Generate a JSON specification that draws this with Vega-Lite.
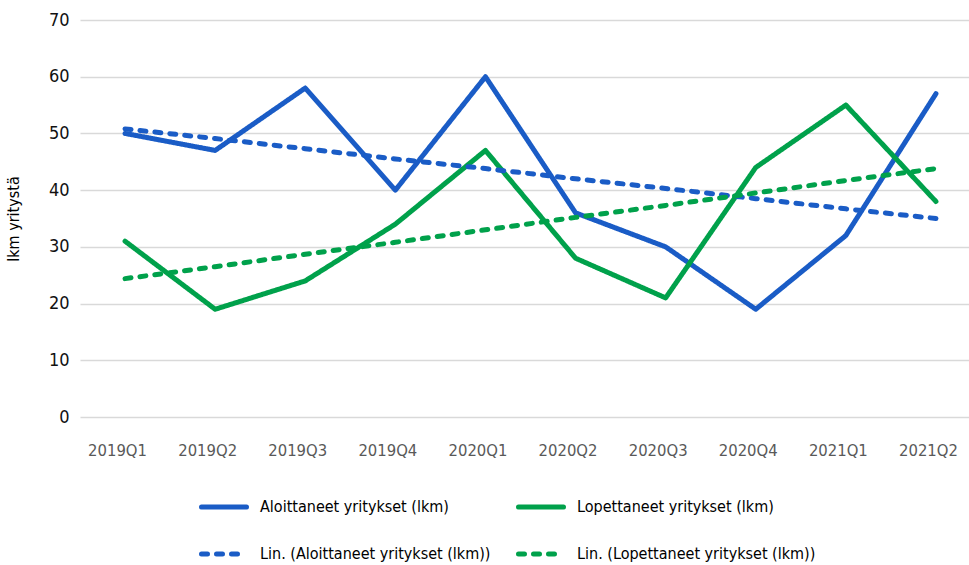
{
  "$schema": "https://vega.github.io/schema/vega-lite/v6.json",
  "width": 901,
  "height": 397,
  "autosize": {"type": "none"},
  "padding": {"left": 80, "top": 20, "right": -12, "bottom": 148},
  "background": "white",
  "config": {"font": "DejaVu Sans Condensed", "view": {"stroke": null}},
  "data": {
    "values": [
      {"quarter": "2019Q1", "series": "Aloittaneet yritykset (lkm)", "value": 50},
      {"quarter": "2019Q2", "series": "Aloittaneet yritykset (lkm)", "value": 47},
      {"quarter": "2019Q3", "series": "Aloittaneet yritykset (lkm)", "value": 58},
      {"quarter": "2019Q4", "series": "Aloittaneet yritykset (lkm)", "value": 40},
      {"quarter": "2020Q1", "series": "Aloittaneet yritykset (lkm)", "value": 60},
      {"quarter": "2020Q2", "series": "Aloittaneet yritykset (lkm)", "value": 36},
      {"quarter": "2020Q3", "series": "Aloittaneet yritykset (lkm)", "value": 30},
      {"quarter": "2020Q4", "series": "Aloittaneet yritykset (lkm)", "value": 19},
      {"quarter": "2021Q1", "series": "Aloittaneet yritykset (lkm)", "value": 32},
      {"quarter": "2021Q2", "series": "Aloittaneet yritykset (lkm)", "value": 57},
      {"quarter": "2019Q1", "series": "Lopettaneet yritykset (lkm)", "value": 31},
      {"quarter": "2019Q2", "series": "Lopettaneet yritykset (lkm)", "value": 19},
      {"quarter": "2019Q3", "series": "Lopettaneet yritykset (lkm)", "value": 24},
      {"quarter": "2019Q4", "series": "Lopettaneet yritykset (lkm)", "value": 34},
      {"quarter": "2020Q1", "series": "Lopettaneet yritykset (lkm)", "value": 47},
      {"quarter": "2020Q2", "series": "Lopettaneet yritykset (lkm)", "value": 28},
      {"quarter": "2020Q3", "series": "Lopettaneet yritykset (lkm)", "value": 21},
      {"quarter": "2020Q4", "series": "Lopettaneet yritykset (lkm)", "value": 44},
      {"quarter": "2021Q1", "series": "Lopettaneet yritykset (lkm)", "value": 55},
      {"quarter": "2021Q2", "series": "Lopettaneet yritykset (lkm)", "value": 38},
      {"quarter": "2019Q1", "series": "Lin. (Aloittaneet yritykset (lkm))", "value": 50.8},
      {"quarter": "2019Q2", "series": "Lin. (Aloittaneet yritykset (lkm))", "value": 49.1},
      {"quarter": "2019Q3", "series": "Lin. (Aloittaneet yritykset (lkm))", "value": 47.3},
      {"quarter": "2019Q4", "series": "Lin. (Aloittaneet yritykset (lkm))", "value": 45.5},
      {"quarter": "2020Q1", "series": "Lin. (Aloittaneet yritykset (lkm))", "value": 43.8},
      {"quarter": "2020Q2", "series": "Lin. (Aloittaneet yritykset (lkm))", "value": 42.0},
      {"quarter": "2020Q3", "series": "Lin. (Aloittaneet yritykset (lkm))", "value": 40.3},
      {"quarter": "2020Q4", "series": "Lin. (Aloittaneet yritykset (lkm))", "value": 38.5},
      {"quarter": "2021Q1", "series": "Lin. (Aloittaneet yritykset (lkm))", "value": 36.7},
      {"quarter": "2021Q2", "series": "Lin. (Aloittaneet yritykset (lkm))", "value": 35.0},
      {"quarter": "2019Q1", "series": "Lin. (Lopettaneet yritykset (lkm))", "value": 24.4},
      {"quarter": "2019Q2", "series": "Lin. (Lopettaneet yritykset (lkm))", "value": 26.5},
      {"quarter": "2019Q3", "series": "Lin. (Lopettaneet yritykset (lkm))", "value": 28.7},
      {"quarter": "2019Q4", "series": "Lin. (Lopettaneet yritykset (lkm))", "value": 30.8},
      {"quarter": "2020Q1", "series": "Lin. (Lopettaneet yritykset (lkm))", "value": 33.0},
      {"quarter": "2020Q2", "series": "Lin. (Lopettaneet yritykset (lkm))", "value": 35.2},
      {"quarter": "2020Q3", "series": "Lin. (Lopettaneet yritykset (lkm))", "value": 37.3},
      {"quarter": "2020Q4", "series": "Lin. (Lopettaneet yritykset (lkm))", "value": 39.5},
      {"quarter": "2021Q1", "series": "Lin. (Lopettaneet yritykset (lkm))", "value": 41.7},
      {"quarter": "2021Q2", "series": "Lin. (Lopettaneet yritykset (lkm))", "value": 43.8}
    ]
  },
  "mark": {"type": "line", "strokeCap": "round", "strokeJoin": "round"},
  "encoding": {
    "x": {
      "field": "quarter",
      "type": "ordinal",
      "sort": null,
      "scale": {"type": "point", "padding": 0.5},
      "axis": {
        "title": null,
        "labelAngle": 0,
        "ticks": false,
        "domain": false,
        "grid": false,
        "labelPadding": 25,
        "labelFontSize": 16.5,
        "labelColor": "#595959",
        "labelOffset": -8
      }
    },
    "y": {
      "field": "value",
      "type": "quantitative",
      "scale": {"domain": [0, 70]},
      "axis": {
        "values": [0, 10, 20, 30, 40, 50, 60, 70],
        "title": "lkm yritystä",
        "titleFontSize": 16,
        "titleFontWeight": "normal",
        "titleColor": "#000000",
        "titlePadding": 27,
        "labelFontSize": 18,
        "labelColor": "#111111",
        "labelPadding": 11,
        "ticks": false,
        "domain": false,
        "gridColor": "#d9d9d9",
        "gridWidth": 1.5
      }
    },
    "color": {
      "field": "series",
      "type": "nominal",
      "scale": {
        "domain": ["Aloittaneet yritykset (lkm)", "Lopettaneet yritykset (lkm)", "Lin. (Aloittaneet yritykset (lkm))", "Lin. (Lopettaneet yritykset (lkm))"],
        "range": ["#1a5cc6", "#00a14b", "#1a5cc6", "#00a14b"]
      },
      "legend": {
        "title": null,
        "orient": "none",
        "direction": "horizontal",
        "legendX": 119,
        "legendY": 462,
        "columns": 2,
        "columnPadding": 17,
        "rowPadding": 12,
        "symbolType": "stroke",
        "symbolSize": 2025,
        "labelFontSize": 16,
        "labelColor": "#000000",
        "labelOffset": 11,
        "labelLimit": 400,
        "encode": {"symbols": {"update": {"strokeCap": {"value": "round"}}}}
      }
    },
    "strokeDash": {
      "field": "series",
      "type": "nominal",
      "scale": {
        "domain": ["Aloittaneet yritykset (lkm)", "Lopettaneet yritykset (lkm)", "Lin. (Aloittaneet yritykset (lkm))", "Lin. (Lopettaneet yritykset (lkm))"],
        "range": [[1, 0], [1, 0], [6, 9], [6, 9]]
      }
    },
    "strokeWidth": {
      "field": "series",
      "type": "nominal",
      "scale": {
        "domain": ["Aloittaneet yritykset (lkm)", "Lopettaneet yritykset (lkm)", "Lin. (Aloittaneet yritykset (lkm))", "Lin. (Lopettaneet yritykset (lkm))"],
        "range": [5, 5, 3.5, 3.5]
      }
    }
  }
}
